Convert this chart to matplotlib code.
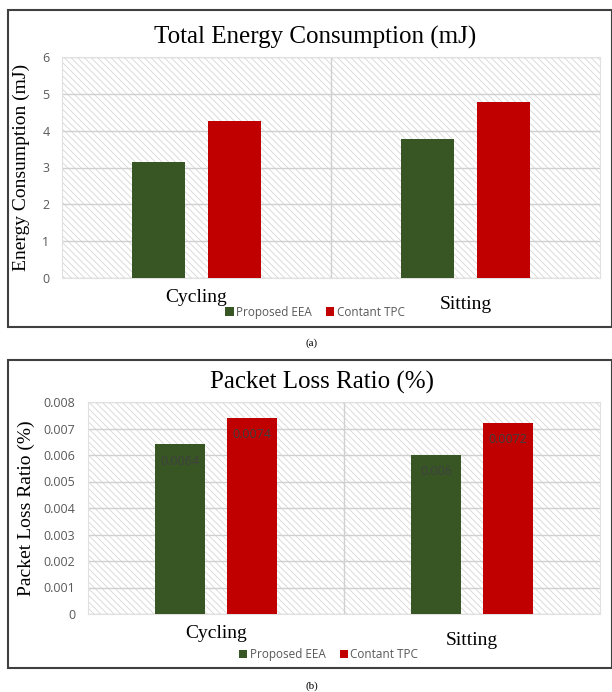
import matplotlib.pyplot as plt
import matplotlib.transforms as mtransforms
from matplotlib.patches import Rectangle
import numpy as np

categories = ["Cycling", "Sitting"]
series_names = ["Proposed EEA", "Contant TPC"]
energy_eea = [3.15, 3.78]
energy_tpc = [4.25, 4.77]
loss_eea = [0.0064, 0.006]
loss_tpc = [0.0074, 0.0072]
loss_labels_eea = ["0.0064", "0.006"]
loss_labels_tpc = ["0.0074", "0.0072"]

GREEN = "#375623"
RED = "#C00000"
GRAY = "#595959"
SANS = "Open Sans"
SERIF = "Liberation Serif"

plt.rcParams["hatch.color"] = "#d9d9d9"
plt.rcParams["hatch.linewidth"] = 0.6

fig = plt.figure(figsize=(6.12, 6.92), dpi=100)
W, H = 612, 692


def px_axes(x0, y0, x1, y1):
    return fig.add_axes([x0 / W, 1 - y1 / H, (x1 - x0) / W, (y1 - y0) / H])


def frame(y0, y1):
    fig.patches.append(Rectangle((8 / W, 1 - y1 / H), (W - 8) / W, (y1 - y0) / H,
                                 transform=fig.transFigure, fill=False,
                                 edgecolor="#404040", linewidth=1.5))


def draw_panel(ax, v1, v2, ymax, step, fmt, title, title_x, ylabel, ylabel_x, leg_y,
               label_dy, labels1=None, labels2=None):
    x = np.arange(len(categories))
    bw = 0.197
    off = 0.14
    ax.add_patch(Rectangle((0, 0), 1, 1, transform=ax.transAxes, facecolor="white",
                           hatch="\\\\\\\\\\", edgecolor="#d6d6d6", linewidth=0, zorder=0))
    ax.set_xlim(-0.5, len(categories) - 0.5)
    ax.set_ylim(0, ymax)
    ticks = np.arange(0, ymax + step / 2, step)
    ax.set_yticks(ticks)
    ax.set_yticklabels([fmt(t) for t in ticks], color=GRAY, fontsize=9, family=SANS)
    for t in ticks:
        ax.axhline(t, color="#d0d0d0", linewidth=1, zorder=1)
    ax.axvline(0.5, color="#d0d0d0", linewidth=1, zorder=1)
    b1 = ax.bar(x - off, v1, bw, color=GREEN, zorder=3, label=series_names[0])
    b2 = ax.bar(x + off, v2, bw, color=RED, zorder=3, label=series_names[1])
    if labels1 is not None:
        for bars, labs in ((b1, labels1), (b2, labels2)):
            for rect, lab in zip(bars, labs):
                ax.annotate(lab, (rect.get_x() + rect.get_width() / 2, rect.get_height()),
                            xytext=(0, -12), textcoords="offset points", ha="center",
                            va="center", fontsize=9, color="#404040", family=SANS, zorder=4)
    for s in ax.spines.values():
        s.set_color("#e0e0e0")
    ax.tick_params(length=0)
    ax.tick_params(axis="y", pad=9)
    ax.set_xticks(x)
    ax.set_xticklabels(categories, family=SERIF, fontsize=14)
    ax.tick_params(axis="x", pad=8)
    lab = ax.get_xticklabels()[1]
    lab.set_transform(lab.get_transform() + mtransforms.ScaledTranslation(0, -label_dy / 72, fig.dpi_scale_trans))
    ax.set_title(title, family=SERIF, fontsize=18, pad=10, x=title_x)
    ax.set_ylabel(ylabel, family=SERIF, fontsize=14)
    ax.yaxis.set_label_coords(ylabel_x, 0.5)
    leg = ax.legend(loc="center", bbox_to_anchor=(0.47, leg_y), ncol=2, frameon=False,
                    handlelength=0.7, handleheight=0.7, handletextpad=0.2, columnspacing=1.2,
                    prop={"family": SANS, "size": 8.5})
    for t in leg.get_texts():
        t.set_color(GRAY)


# (a)
frame(10, 327)
ax1 = px_axes(62, 57, 600, 278)
draw_panel(ax1, energy_eea, energy_tpc, 6, 1, lambda t: "%d" % t,
           "Total Energy Consumption (mJ)", (315 - 62) / 538,
           "Energy Consumption (mJ)", -0.06, -0.154, 5)
fig.text(312 / W, 1 - 343 / H, "(a)", family=SERIF, fontsize=8, ha="center", va="center")

# (b)
frame(360, 668)
ax2 = px_axes(88, 402, 600, 614)
draw_panel(ax2, loss_eea, loss_tpc, 0.008, 0.001, lambda t: "0" if t == 0 else "%.3f" % t,
           "Packet Loss Ratio (%)", (322 - 88) / 512,
           "Packet Loss Ratio (%)", -0.104, -0.193, 5, loss_labels_eea, loss_labels_tpc)
fig.text(312 / W, 1 - 686 / H, "(b)", family=SERIF, fontsize=8, ha="center", va="center")

fig.savefig("out.png", dpi=100)
